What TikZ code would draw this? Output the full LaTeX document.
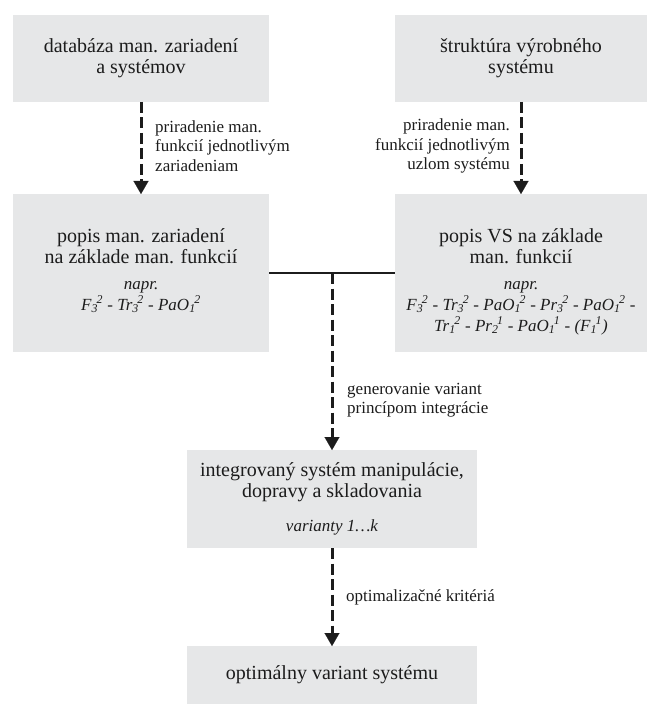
\documentclass[tikz,border=0pt]{standalone}
\usepackage{fontspec}
\setmainfont{Liberation Serif}
\usetikzlibrary{positioning,arrows.meta,calc}
\definecolor{vsSiva}{HTML}{E6E7E8}
\definecolor{vsCierna}{HTML}{1C1C1C}
\newcommand{\vzorec}{\fontsize{17}{20}\selectfont\itshape}
\newcommand{\mfz}[3]{#1\textsubscript{#2}\kern-.08em\textsuperscript{#3}}

\begin{document}
\begin{tikzpicture}[x=1pt, y=1pt,
      font=\fontsize{20}{21}\selectfont,
      box/.style={fill=vsSiva, inner sep=0pt, outer sep=0pt, align=center,
                  text=vsCierna, minimum width=#1},
      txt/.style={align=center, inner sep=0pt, text=vsCierna},
      popis/.style={inner sep=0pt, text=vsCierna, font=\fontsize{17}{19.5}\selectfont},
      sipka/.style={vsCierna, line width=3pt, dash pattern=on 11pt off 4.5pt,
                    -{Triangle[width=15pt,length=13pt,line width=0.1pt]}},
      spojka/.style={vsCierna, line width=1.3pt}]
    \useasboundingbox (0,0) rectangle (647,-708);
    \node[box=256pt, minimum height=87pt] (db) at (141,-58.5)
      {databáza man. zariadení\\a systémov};
    \node[box=252pt, minimum height=87pt] (str) at (521,-58.5)
      {štruktúra výrobného\\systému};
    \node[box=256pt, minimum height=158pt] (pz) at (141,-273) {};
    \node[box=252pt, minimum height=158pt] (pvs) at (521,-273) {};
    \node[txt, anchor=north] (pzt) at ([yshift=-34pt]pz.north)
      {popis man. zariadení\\na základe man. funkcií\\[5pt]
       {\vzorec napr.}\\
       {\vzorec \mfz{F}{3}{2} - \mfz{Tr}{3}{2} - \mfz{PaO}{1}{2}}};
    \node[txt, anchor=north] (pvst) at ([yshift=-34pt]pvs.north)
      {popis VS na základe\\man. funkcií\\[5pt]
       {\vzorec napr.}\\
       {\vzorec \mfz{F}{3}{2} - \mfz{Tr}{3}{2} - \mfz{PaO}{1}{2} - \mfz{Pr}{3}{2} - \mfz{PaO}{1}{2} -}\\
       {\vzorec \mfz{Tr}{1}{2} - \mfz{Pr}{2}{1} - \mfz{PaO}{1}{1} - (\mfz{F}{1}{1})}};
    \node[box=290pt, minimum height=98pt] (ims) at (332,-499)
      {integrovaný systém manipulácie,\\dopravy a skladovania\\[13pt]
       {\vzorec varianty 1…k}};
    \node[box=290pt, minimum height=58pt] (opt) at (332,-675)
      {optimálny variant systému};
    \coordinate (rozv) at ($(pz.east)!.5!(pvs.west)$);
    \draw[sipka] (db) -- (pz);
    \draw[sipka] (str) -- (pvs);
    \draw[spojka] (pz) -- (pvs);
    \draw[sipka] (rozv) -- (ims);
    \draw[sipka] (ims) -- (opt);
    \node[popis, anchor=west, align=left] (p1) at (155,-146)
      {priradenie man.\\funkcií jednotlivým\\zariadeniam};
    \node[popis, anchor=east, align=right] (p2) at (510,-146)
      {priradenie man.\\funkcií jednotlivým\\uzlom systému};
    \node[popis, anchor=west, align=left] (p3) at (347,-400)
      {generovanie variant\\princípom integrácie};
    \node[popis, anchor=west] (p4) at (346,-597) {optimalizačné kritériá};
  \end{tikzpicture}
\end{document}
